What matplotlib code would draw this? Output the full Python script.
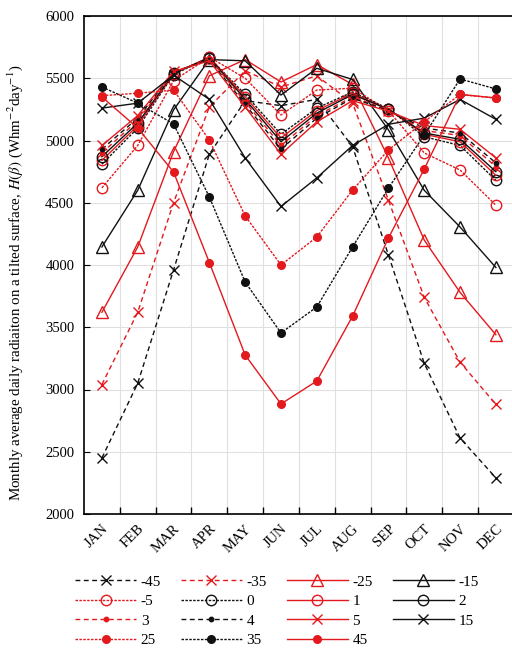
import matplotlib
matplotlib.use("Agg")
import matplotlib.pyplot as plt
import numpy as np

months = ["JAN", "FEB", "MAR", "APR", "MAY", "JUN", "JUL", "AUG", "SEP", "OCT", "NOV", "DEC"]

# Monthly average daily radiation (Wh m-2 day-1) for each tilt angle
tilt_m45 = [2450, 3050, 3960, 4890, 5320, 5280, 5330, 4950, 4080, 3210, 2610, 2290]
tilt_m35 = [3040, 3620, 4500, 5270, 5560, 5430, 5520, 5300, 4520, 3740, 3220, 2880]
tilt_m25 = [3620, 4145, 4910, 5520, 5650, 5470, 5610, 5450, 4860, 4200, 3780, 3440]
tilt_m15 = [4145, 4600, 5245, 5650, 5640, 5365, 5580, 5490, 5085, 4600, 4305, 3980]
tilt_m5 = [4620, 4960, 5480, 5670, 5500, 5205, 5405, 5420, 5240, 4900, 4763, 4480]
tilt_0 = [4810, 5100, 5530, 5665, 5370, 5050, 5260, 5390, 5255, 5030, 4960, 4680]
tilt_1 = [4840, 5120, 5535, 5670, 5350, 5020, 5240, 5380, 5250, 5050, 4990, 4720]
tilt_2 = [4870, 5140, 5540, 5665, 5330, 4990, 5220, 5370, 5250, 5060, 5010, 4750]
tilt_3 = [4900, 5160, 5545, 5660, 5310, 4960, 5200, 5350, 5245, 5080, 5040, 4790]
tilt_4 = [4930, 5180, 5550, 5650, 5290, 4930, 5180, 5340, 5240, 5100, 5060, 4820]
tilt_5 = [4960, 5200, 5555, 5640, 5270, 4890, 5150, 5320, 5235, 5120, 5090, 4860]
tilt_15 = [5260, 5300, 5525, 5330, 4860, 4470, 4700, 4960, 5130, 5180, 5330, 5170]
tilt_25 = [5360, 5380, 5405, 5004, 4394, 4000, 4225, 4602, 4924, 5150, 5370, 5340]
tilt_35 = [5430, 5300, 5133, 4546, 3863, 3454, 3663, 4145, 4618, 5044, 5494, 5414]
tilt_45 = [5350, 5100, 4747, 4020, 3277, 2884, 3068, 3590, 4217, 4770, 5370, 5342]

labels = ["-45", "-35", "-25", "-15", "-5", "0", "1", "2", "3", "4", "5", "15", "25", "35", "45"]
series = [tilt_m45, tilt_m35, tilt_m25, tilt_m15, tilt_m5, tilt_0, tilt_1, tilt_2,
          tilt_3, tilt_4, tilt_5, tilt_15, tilt_25, tilt_35, tilt_45]

RED = "#e3191e"
BLK = "#111111"
DASH = (0, (3.5, 2.5))
DOT = (0, (1.8, 1.0))

styles = {
    "-45": dict(color=BLK, ls=DASH, marker="x", ms=7, mfc="none"),
    "-35": dict(color=RED, ls=DASH, marker="x", ms=7, mfc="none"),
    "-25": dict(color=RED, ls="-", marker="^", ms=8, mfc="none"),
    "-15": dict(color=BLK, ls="-", marker="^", ms=8, mfc="none"),
    "-5": dict(color=RED, ls=DOT, marker="o", ms=7.5, mfc="none"),
    "0": dict(color=BLK, ls=DOT, marker="o", ms=7.5, mfc="none"),
    "1": dict(color=RED, ls="-", marker="o", ms=7.5, mfc="none"),
    "2": dict(color=BLK, ls="-", marker="o", ms=7.5, mfc="none"),
    "3": dict(color=RED, ls=DASH, marker="o", ms=3.2, mfc=RED),
    "4": dict(color=BLK, ls=DASH, marker="o", ms=3.2, mfc=BLK),
    "5": dict(color=RED, ls="-", marker="x", ms=7, mfc="none"),
    "15": dict(color=BLK, ls="-", marker="x", ms=7, mfc="none"),
    "25": dict(color=RED, ls=DOT, marker="o", ms=5.5, mfc=RED),
    "35": dict(color=BLK, ls=DOT, marker="o", ms=5.5, mfc=BLK),
    "45": dict(color=RED, ls="-", marker="o", ms=5.5, mfc=RED),
}

plt.rcParams["font.family"] = ["Liberation Serif", "DejaVu Serif"]
plt.rcParams["mathtext.fontset"] = "stix"

fig = plt.figure(figsize=(5.12, 6.54), dpi=100)
ax = fig.add_axes([84 / 512, 1 - 514 / 654, (512 - 84) / 512, (514 - 16) / 654])

x = np.arange(len(months))
handles = {}
for lab, vals in zip(labels, series):
    st = styles[lab]
    h, = ax.plot(x, vals, color=st["color"], ls=st["ls"], lw=1.0,
                 marker=st["marker"], ms=st["ms"], mfc=st["mfc"],
                 mec=st["color"], mew=1.0, label=lab)
    handles[lab] = h

ax.set_xlim(-0.5, 11.45)
ax.set_ylim(2000, 6000)
ax.set_yticks(np.arange(2000, 6001, 500))
ax.set_xticks(x)
ax.set_xticklabels(months, rotation=45, ha="right", rotation_mode="anchor", fontsize=10.5)
ax.set_xticks(np.arange(0.5, 11.5, 1), minor=True)
ax.tick_params(axis="x", which="major", length=0, pad=6)
ax.tick_params(axis="x", which="minor", direction="in", length=5, width=1)
ax.tick_params(axis="y", direction="in", length=4, labelsize=10.5, pad=7)
ax.grid(True, axis="y", color="#e0e0e0", lw=0.8)
ax.grid(True, axis="x", which="minor", color="#e0e0e0", lw=0.8)
ax.set_axisbelow(True)
for s in ["left", "bottom", "top"]:
    ax.spines[s].set_linewidth(1.2)
    ax.spines[s].set_color("black")
ax.spines["right"].set_visible(False)

ax.set_ylabel(r"Monthly average daily radiaiton on a tilted surface, $H(\beta)$ (Whm$^{-2}$day$^{-1}$)",
              fontsize=10.8)
ax.yaxis.set_label_coords(-0.138, 0.465)

order = ["-45", "-5", "3", "25", "-35", "0", "4", "35", "-25", "1", "5", "45", "-15", "2", "15"]
leg = fig.legend([handles[k] for k in order], order, ncol=4, frameon=False,
                 loc="upper left", bbox_to_anchor=(75 / 512, 1 - 575 / 654),
                 fontsize=11, handlelength=4.0, handletextpad=0.3,
                 columnspacing=1.3, labelspacing=0.38, borderaxespad=0, borderpad=0)

fig.savefig("out.png", dpi=100)
